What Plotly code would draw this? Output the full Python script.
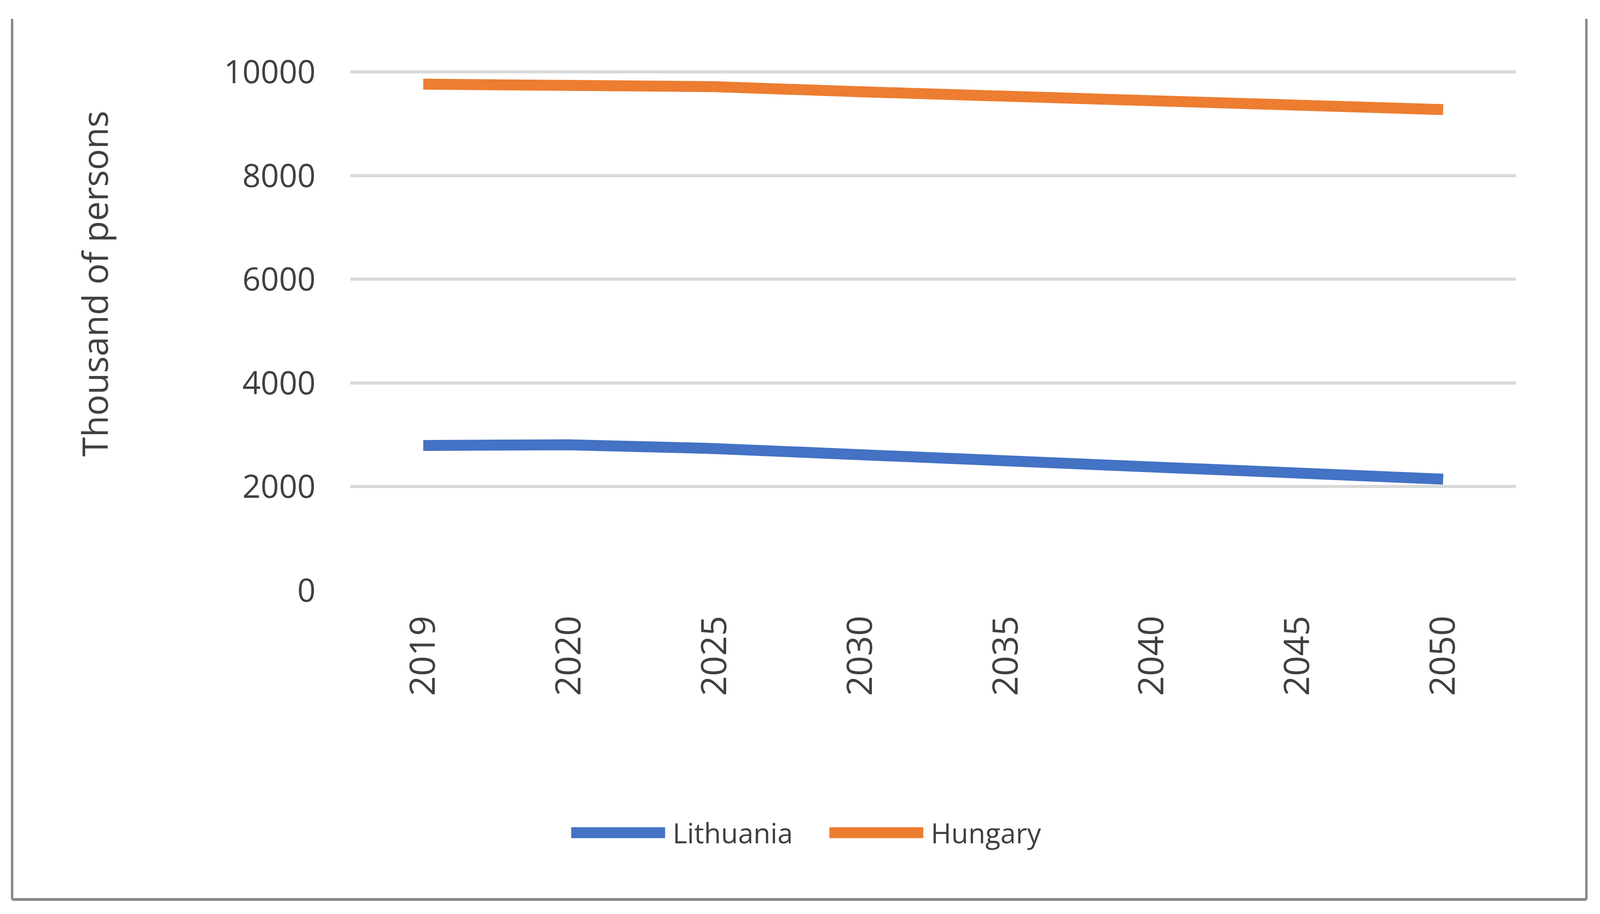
import plotly.graph_objects as go

years = ["2019", "2020", "2025", "2030", "2035", "2040", "2045", "2050"]
lithuania = [2794, 2808, 2735, 2625, 2500, 2395, 2290, 2145]
hungary = [9765, 9757, 9716, 9618, 9525, 9412, 9324, 9274]
y_ticks = [0, 2000, 4000, 6000, 8000, 10000]

BLUE = "#4472C4"
ORANGE = "#ED7D31"
TXT = "#404040"
FONT = "Open Sans"

# Reference geometry (reference-image pixels, 4754 x 2341)
REF_W, REF_H = 4754, 2341
PL, PR = 1041, 4504            # plot area left / right
Y0_REF, Y10K_REF = 1512, 184   # y of the 0 and 10000 gridlines
YMAX = 10040
PT = Y0_REF - (Y0_REF - Y10K_REF) * YMAX / 10000.0

# Browser viewport actually used for the picture (CSS px) and body margin
VW, VH = 4096, 2341
OFF = 8
SX = VW / REF_W   # horizontal scale
SY = VH / REF_H   # vertical scale


def cx(v):
    return v * SX - OFF


def cy(v):
    return v * SY - OFF


Wf = VW - 2 * OFF
Hf = VH - 2 * OFF
L = int(round(cx(PL)))
R = int(round(Wf - cx(PR)))
T = int(round(cy(PT)))
B = int(round(Hf - cy(Y0_REF)))


def px(xd):
    return (xd - PL) / (PR - PL)


def py(yd):
    return (Y0_REF - yd) / (Y0_REF - PT)


fig = go.Figure()
fig.add_trace(go.Scatter(x=years, y=lithuania, mode="lines", name="Lithuania",
                         line=dict(color=BLUE, width=28 * SY), showlegend=False))
fig.add_trace(go.Scatter(x=years, y=hungary, mode="lines", name="Hungary",
                         line=dict(color=ORANGE, width=28 * SY), showlegend=False))

fig.update_layout(
    width=Wf, height=Hf, autosize=False,
    margin=dict(l=L, r=R, t=T, b=B, pad=0),
    paper_bgcolor="white", plot_bgcolor="white",
    font=dict(family=FONT, color=TXT, size=82),
    xaxis=dict(type="category", range=[-0.5, 7.5], showgrid=False, zeroline=False,
               showline=False, tickangle=-90, ticks="", ticklabelstandoff=46,
               tickfont=dict(family=FONT, size=90, color=TXT)),
    yaxis=dict(range=[0, YMAX], tickvals=y_ticks, tickformat="d", showgrid=True,
               gridcolor="#d9d9d9", gridwidth=8 * SY, zeroline=False, showline=False,
               ticks="", ticklabelstandoff=int(round(102 * SX)),
               tickfont=dict(family=FONT, size=82, color=TXT)),
    showlegend=False,
)

# Y axis title
fig.add_annotation(text="Thousand of persons", xref="paper", yref="paper",
                   x=px(280), y=py(726), textangle=-90, showarrow=False,
                   font=dict(family=FONT, size=90, color=TXT),
                   xanchor="center", yanchor="middle")

# Legend (drawn manually to match the long line samples)
leg_y = py(2133)
for name, color, x0, x1, tx in [("Lithuania", BLUE, 1697, 1976, 1996),
                                 ("Hungary", ORANGE, 2464, 2743, 2763)]:
    fig.add_shape(type="line", xref="paper", yref="paper", x0=px(x0), x1=px(x1),
                  y0=leg_y, y1=leg_y, line=dict(color=color, width=28 * SY))
    fig.add_annotation(text=name, xref="paper", yref="paper", x=px(tx), y=leg_y,
                       showarrow=False, xanchor="left", yanchor="middle",
                       font=dict(family=FONT, size=71, color=TXT))

# Chart border (left, bottom, right; top cropped off)
fig.add_shape(type="line", xref="paper", yref="paper", x0=px(36), x1=px(36),
              y0=py(48), y1=py(2304), line=dict(color="#878787", width=7 * SX))
fig.add_shape(type="line", xref="paper", yref="paper", x0=px(36), x1=px(4713),
              y0=py(2304), y1=py(2304), line=dict(color="#878787", width=7 * SY))
fig.add_shape(type="line", xref="paper", yref="paper", x0=px(4713), x1=px(4713),
              y0=py(48), y1=py(2304), line=dict(color="#878787", width=7 * SX))

fig.write_html("out.html")
